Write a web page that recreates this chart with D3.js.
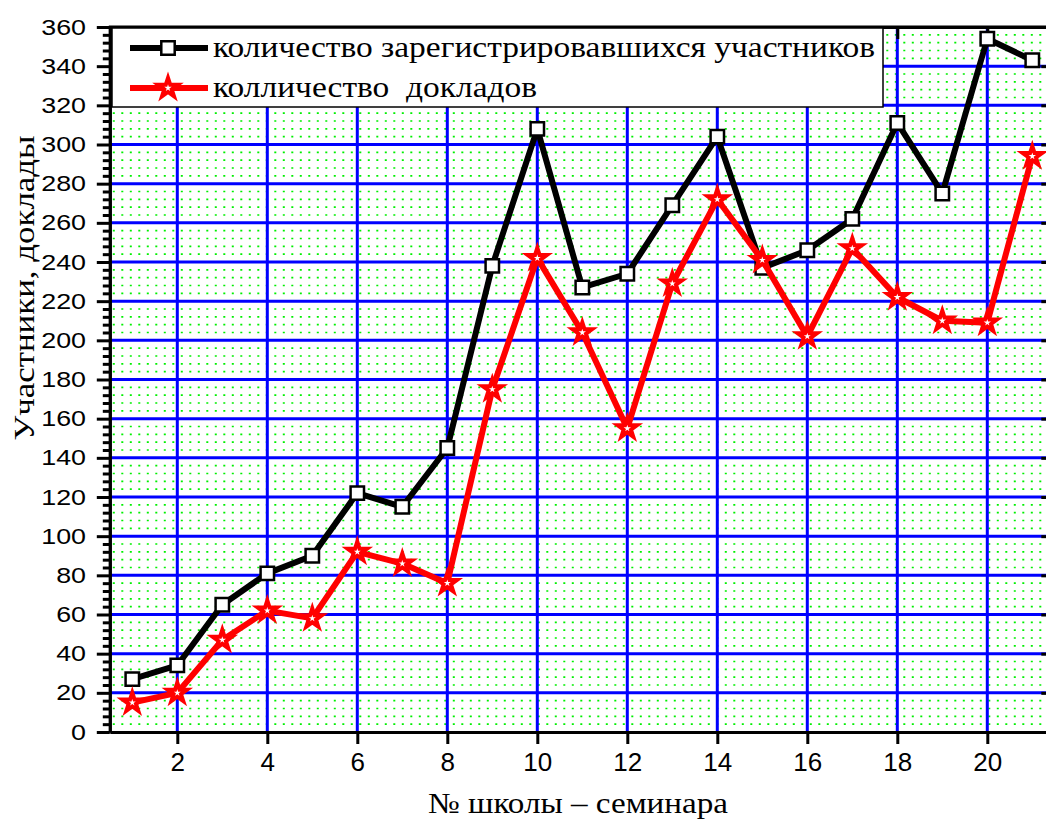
<!DOCTYPE html>
<html>
<head>
<meta charset="utf-8">
<script src="https://cdn.jsdelivr.net/npm/d3@7"></script>
<style>
  body { margin: 0; background: #fff; }
  svg { display: block; }
</style>
</head>
<body>
<div id="chart"></div>
<script>
// школы-семинары
const schools = [1,2,3,4,5,6,7,8,9,10,11,12,13,14,15,16,17,18,19,20,21];
const participants = [27,34,65,81,90,122,115,145,238,308,227,234,269,304,237,246,262,311,275,354,343];
const reports = [15,20,47,62,58,92,86,76,175,242,204,155,229,272,241,202,247,222,210,209,294];
const xTickLabels = [2,4,6,8,10,12,14,16,18,20];
const yTickLabels = [0,20,40,60,80,100,120,140,160,180,200,220,240,260,280,300,320,340,360];
const seriesNames = ['количество зарегистрировавшихся участников', 'колличество  докладов'];

const W = 1046, H = 820;
const plot = {'left':109.8,'right':1050.3,'top':27,'bottom':732};
var svg, x, y;

function setup(){
  svg = d3.select('#chart')
          .append('svg')
          .attr('width', W)
          .attr('height', H);
}

function setScales(){
  x = d3.scaleLinear()
        .domain([0.5, 21.4])
        .range([plot.left, plot.right]);
  y = d3.scaleLinear()
        .domain([0, 360])
        .range([plot.bottom, plot.top]);
}

function drawGrid(){
  // minor dotted rows, every 4 units
  let minor = d3.range(0, 360, 4).filter(v => v % 20 != 0);
  svg.append('g')
     .selectAll('line')
     .data(minor)
     .enter().append('line')
     .attr('x1', plot.left + 3)
     .attr('x2', plot.right)
     .attr('y1', d => y(d))
     .attr('y2', d => y(d))
     .attr('stroke', '#00f000')
     .attr('stroke-width', 1.6)
     .attr('stroke-dasharray', '2 6.5');

  svg.append('g')
     .selectAll('line')
     .data(yTickLabels.filter(v => v > 0 && v < 360))
     .enter().append('line')
     .attr('x1', plot.left)
     .attr('x2', plot.right)
     .attr('y1', d => y(d))
     .attr('y2', d => y(d))
     .attr('stroke', '#0000ff')
     .attr('stroke-width', 3);

  svg.append('g')
     .selectAll('line')
     .data(xTickLabels)
     .enter().append('line')
     .attr('x1', d => x(d))
     .attr('x2', d => x(d))
     .attr('y1', plot.top)
     .attr('y2', plot.bottom)
     .attr('stroke', '#0000ff')
     .attr('stroke-width', 3);
}

function drawAxes(){
  let minor = d3.range(0, 361, 4).filter(v => v % 20 != 0);

  // bottom
  let bottom = svg.append('g')
     .attr('transform', `translate(0,${plot.bottom})`)
     .call(d3.axisBottom(x).tickValues(xTickLabels).tickSize(12).tickSizeOuter(0).tickPadding(9));
  bottom.selectAll('text')
     .style('font-family', '"Liberation Sans", Arial, sans-serif')
     .style('font-size', '26px')
     .attr('fill', '#000');

  // top (ticks inward)
  svg.append('g')
     .attr('transform', `translate(0,${plot.top})`)
     .call(d3.axisBottom(x).tickValues(xTickLabels).tickSize(12).tickSizeOuter(0).tickFormat(''));

  // left minor + major
  svg.append('g')
     .attr('transform', `translate(${plot.left},0)`)
     .call(d3.axisLeft(y).tickValues(minor).tickSize(7).tickSizeOuter(0).tickFormat(''));
  let left = svg.append('g')
     .attr('transform', `translate(${plot.left},0)`)
     .call(d3.axisLeft(y).tickValues(yTickLabels).tickSize(13).tickSizeOuter(0));
  left.selectAll('text')
     .style('font-family', '"Liberation Sans", Arial, sans-serif')
     .style('font-size', '22px')
     .attr('fill', '#000')
     .attr('x', -19.5)
     .attr('transform', 'scale(1.22,1)');

  // right (ticks inward)
  svg.append('g')
     .attr('transform', `translate(${plot.right},0)`)
     .call(d3.axisLeft(y).tickValues(yTickLabels).tickSize(9).tickSizeOuter(0).tickFormat(''));

  svg.selectAll('.domain').attr('stroke', '#000').attr('stroke-width', 3);
  svg.selectAll('.tick line').attr('stroke', '#000').attr('stroke-width', 3);

  // top spine
  svg.append('line')
     .attr('x1', plot.left - 1).attr('x2', plot.right)
     .attr('y1', plot.top).attr('y2', plot.top)
     .attr('stroke', '#000').attr('stroke-width', 3);
}

function drawSeries(values, color, symbol, symSize, fill){
  let line = d3.line()
    .x((d, i) => x(schools[i]))
    .y(d => y(d));
  svg.append('path')
     .datum(values)
     .attr('d', line)
     .attr('fill', 'none')
     .attr('stroke', color)
     .attr('stroke-width', 6)
     .attr('stroke-linejoin', 'round');
  svg.append('g')
     .selectAll('path')
     .data(values)
     .enter().append('path')
     .attr('transform', (d, i) => `translate(${x(schools[i])},${y(d)})`)
     .attr('d', d3.symbol().type(symbol).size(symSize))
     .attr('fill', fill)
     .attr('stroke', color)
     .attr('stroke-width', symbol == d3.symbolStar ? 4 : 2.5);
}

function drawLegend(){
  let g = svg.append('g');
  g.append('rect')
   .attr('x', 112).attr('y', 28)
   .attr('width', 771).attr('height', 79)
   .attr('fill', '#fff')
   .attr('stroke', '#000')
   .attr('stroke-width', 1.5);

  let items = [
    {'name':seriesNames[0],'color':'#000','symbol':d3.symbolSquare,'size':180,'y':48,'len':662},
    {'name':seriesNames[1],'color':'#ff0000','symbol':d3.symbolStar,'size':115,'y':88,'len':324}
  ];
  items.forEach(it => {
    g.append('line')
     .attr('x1', 130).attr('x2', 208)
     .attr('y1', it.y).attr('y2', it.y)
     .attr('stroke', it.color)
     .attr('stroke-width', 6);
    g.append('path')
     .attr('transform', `translate(168,${it.y})`)
     .attr('d', d3.symbol().type(it.symbol).size(it.size))
     .attr('fill', '#fff')
     .attr('stroke', it.color)
     .attr('stroke-width', it.symbol == d3.symbolStar ? 4 : 2.5);
    g.append('text')
     .attr('x', 213)
     .attr('y', it.y + 9)
     .attr('textLength', it.len)
     .attr('lengthAdjust', 'spacingAndGlyphs')
     .style('font-family', '"Liberation Serif", "Times New Roman", serif')
     .style('font-size', '30px')
     .style('white-space', 'pre')
     .text(it.name);
  });
}

function setAxisLables(){
  svg.append('text')
     .attr('transform', 'translate(34,288) rotate(-90)')
     .attr('text-anchor', 'middle')
     .attr('textLength', 305)
     .attr('lengthAdjust', 'spacingAndGlyphs')
     .style('font-family', '"Liberation Serif", "Times New Roman", serif')
     .style('font-size', '29px')
     .text('Участники, доклады');

  svg.append('text')
     .attr('x', 578)
     .attr('y', 813)
     .attr('text-anchor', 'middle')
     .attr('textLength', 300)
     .attr('lengthAdjust', 'spacingAndGlyphs')
     .style('font-family', '"Liberation Serif", "Times New Roman", serif')
     .style('font-size', '29px')
     .text('№ школы – семинара');
}

setup();
setScales();
drawGrid();
drawAxes();
drawSeries(participants, '#000', d3.symbolSquare, 180, '#fff');
drawSeries(reports, '#ff0000', d3.symbolStar, 115, '#fff');
drawLegend();
setAxisLables();
</script>
</body>
</html>
